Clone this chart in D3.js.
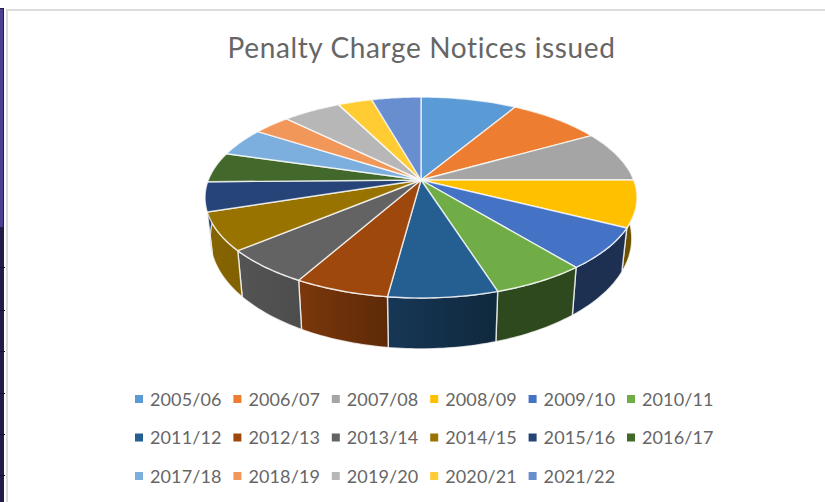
<!DOCTYPE html>
<html>
<head>
  <meta charset="utf-8">
  <title>Penalty Charge Notices issued</title>
  <style>
    html, body { margin: 0; padding: 0; background: #fff; overflow: hidden; }
    text { font-family: Lato, "Open Sans", sans-serif; fill: #666; }
    .title { font-size: 28px; letter-spacing: 0.62px; }
    .legend-label { font-size: 18px; letter-spacing: 0.12px; }
    .top, .wall { stroke: #fff; stroke-width: 1.4; stroke-opacity: 0.75; stroke-linejoin: round; }
  </style>
</head>
<body>
  <div id="chart"></div>

  <script src="https://d3js.org/d3.v7.min.js"></script>

  <script>
    // values: each year's share of the pie, in degrees
    const years = ['2005/06', '2006/07', '2007/08', '2008/09', '2009/10', '2010/11',
      '2011/12', '2012/13', '2013/14', '2014/15', '2015/16', '2016/17',
      '2017/18', '2018/19', '2019/20', '2020/21', '2021/22'];
    const shares = [30.6, 29.8, 29.6, 27.0, 23.9, 21.6, 25.0, 21.7, 20.7,
      22.0, 17.1, 17.4, 16.5, 11.9, 18.6, 10.9, 15.7];
    const colors = ['#5B9BD5', '#ED7D31', '#A5A5A5', '#FFC000', '#4472C4', '#70AD47',
      '#255E91', '#9E480E', '#636363', '#997300', '#264478', '#43682B',
      '#7CAFDD', '#F1975A', '#B7B7B7', '#FFCD33', '#698ED0'];
    const bandTicks = [267, 310, 351, 393, 434, 475];

    const width = 825, height = 502;

    let svg = d3.select('#chart')
      .append('svg')
      .attr('width', width)
      .attr('height', height);

    // bits of the screenshot around the chart
    svg.append('rect').attr('x', 0).attr('y', 8).attr('width', 4).attr('height', height).attr('fill', '#241c48');
    svg.append('rect').attr('x', 0).attr('y', 9).attr('width', 3).attr('height', 218).attr('fill', '#4f4093');
    svg.selectAll('.band-tick')
      .data(bandTicks)
      .join('rect')
      .attr('class', 'band-tick')
      .attr('x', 0).attr('y', d => d)
      .attr('width', 5).attr('height', 1)
      .attr('fill', '#15102e');
    svg.append('rect').attr('x', 6).attr('y', 9).attr('width', width).attr('height', 2).attr('fill', '#dcdcdc');
    svg.append('rect').attr('x', 6).attr('y', 9).attr('width', 2).attr('height', height).attr('fill', '#dcdcdc');

    svg.append('text')
      .attr('class', 'title')
      .attr('x', 421.5)
      .attr('y', 58)
      .attr('text-anchor', 'middle')
      .text('Penalty Charge Notices issued');

    // perspective view of the pie: unit circle (u, v) to the screen
    const cx = 421, cy = 180;
    const tilt = -0.174, depthY = 66.1, spreadX = 212.7;
    const project = (u, v) => [
      cx + spreadX * u / (1 + tilt * v),
      (depthY * v + cy) / (1 + tilt * v)
    ];
    // the lower rim is the upper one pulled in a bit and pushed down
    const lower = ([x, y]) => [cx + 0.976 * (x - cx), 349 + 1.1 * (y - 298)];

    const pie = d3.pie().sort(null).value(d => d);
    const arcs = pie(shares);

    const rim = d => d3.range(0, 25).map(i => {
      let a = d.startAngle + (d.endAngle - d.startAngle) * i / 24;
      return project(Math.sin(a), -Math.cos(a));
    });

    const line = d3.line();
    const defs = svg.append('defs');

    // how much of the face colour a wall keeps, by screen x
    const shade = d3.scaleLinear()
      .domain([205, 300, 390, 500, 640])
      .range([0.88, 0.78, 0.58, 0.42, 0.42]);
    const dim = (c, k) => {
      let rgb = d3.rgb(c);
      return d3.rgb(rgb.r * k, rgb.g * k, rgb.b * k).formatHex();
    };

    arcs.forEach((d, i) => {
      let pts = rim(d);
      let xs = d3.extent(pts, p => p[0]);
      let grad = defs.append('linearGradient')
        .attr('id', 'wall' + i)
        .attr('gradientUnits', 'userSpaceOnUse')
        .attr('x1', xs[0]).attr('x2', xs[1])
        .attr('y1', 0).attr('y2', 0);
      grad.append('stop').attr('offset', 0).attr('stop-color', dim(colors[i], shade(xs[0])));
      grad.append('stop').attr('offset', 1).attr('stop-color', dim(colors[i], shade(xs[1])));
    });

    // walls first, the top face then covers whatever faces away
    svg.append('g')
      .selectAll('path')
      .data(arcs)
      .join('path')
      .attr('class', 'wall')
      .attr('fill', (d, i) => `url(#wall${i})`)
      .attr('d', d => {
        let pts = rim(d);
        return line(pts.concat(pts.map(lower).reverse())) + 'Z';
      });

    svg.append('g')
      .selectAll('path')
      .data(arcs)
      .join('path')
      .attr('class', 'top')
      .attr('fill', (d, i) => colors[i])
      .attr('d', d => line([[cx, cy]].concat(rim(d))) + 'Z');

    // legend, three rows of six
    const legendX = d3.scalePoint().domain(d3.range(6)).range([139, 631]);
    const legendY = d3.scalePoint().domain(d3.range(3)).range([399, 476]);

    let legend = svg.append('g')
      .selectAll('g')
      .data(years)
      .join('g')
      .attr('transform', (d, i) => `translate(${legendX(i % 6)}, ${legendY(Math.floor(i / 6))})`);

    legend.append('rect')
      .attr('x', -4).attr('y', -4)
      .attr('width', 8).attr('height', 8)
      .attr('fill', (d, i) => colors[i]);

    legend.append('text')
      .attr('class', 'legend-label')
      .attr('x', 11)
      .attr('y', 6.5)
      .text(d => d);
  </script>
</body>
</html>
